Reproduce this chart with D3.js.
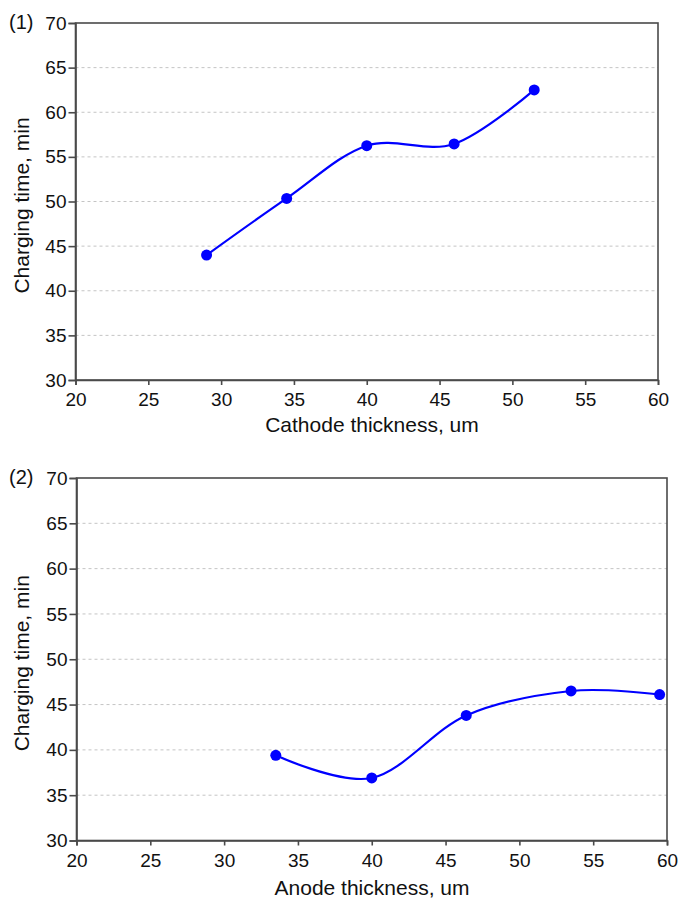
<!DOCTYPE html>
<html>
<head>
<meta charset="utf-8">
<script src="https://cdn.jsdelivr.net/npm/d3@7"></script>
<style>
body{margin:0;background:#fff;}
text{font-family:"Liberation Sans",Arial,sans-serif;fill:#111;}
</style>
</head>
<body>
<div id="content"></div>
<script>
// data
var cathodeX=[29,34.5,40,46,51.5];
var cathodeY=[44.0,50.35,56.25,56.45,62.5];
var anodeX=[33.5,40,46.4,53.5,59.5];
var anodeY=[39.4,36.9,43.8,46.5,46.1];
var xTicks=[20,25,30,35,40,45,50,55,60];
var yTicks=[30,35,40,45,50,55,60,65,70];

var width=679,height=898;
var svg=d3.select("#content").append("svg")
	.attr("width",width)
	.attr("height",height);

var panels=[
	{tag:"(1)",xs:cathodeX,ys:cathodeY,xlabel:"Cathode thickness, um",left:75.5,right:658,top:23,bottom:380,labelY:432},
	{tag:"(2)",xs:anodeX,ys:anodeY,xlabel:"Anode thickness, um",left:76.5,right:667,top:478,bottom:840.5,labelY:895}
];

function drawPanel(p){
	var x=d3.scaleLinear().domain([20,60]).range([p.left,p.right]);
	var y=d3.scaleLinear().domain([30,70]).range([p.bottom,p.top]);
	var g=svg.append("g");

	// grid
	g.selectAll(".grid")
	.data(yTicks.filter(function(d){return d>30&&d<70;}))
	.enter()
	.append("line")
	.attr("x1",p.left).attr("x2",p.right)
	.attr("y1",function(d){return y(d);}).attr("y2",function(d){return y(d);})
	.attr("stroke","#c4c4c4").attr("stroke-width",1)
	.attr("stroke-dasharray","3,3");

	// frame
	g.append("rect")
	.attr("x",p.left).attr("y",p.top)
	.attr("width",p.right-p.left).attr("height",p.bottom-p.top)
	.attr("fill","none").attr("stroke","#4a4a4a").attr("stroke-width",1.6);

	var xAxis=g.append("g")
	.attr("transform","translate(0,"+p.bottom+")")
	.call(d3.axisBottom(x).tickValues(xTicks).tickSize(5).tickPadding(8));
	var yAxis=g.append("g")
	.attr("transform","translate("+p.left+",0)")
	.call(d3.axisLeft(y).tickValues(yTicks).tickSize(7).tickPadding(2));
	[xAxis,yAxis].forEach(function(a){
		a.select(".domain").attr("stroke","#4a4a4a").attr("stroke-width",1.6);
		a.selectAll(".tick line").attr("stroke","#4a4a4a").attr("stroke-width",1.6);
		a.selectAll("text").attr("font-size",19).attr("fill","#111")
		.attr("font-family","'Liberation Sans',Arial,sans-serif");
	});

	var pts=p.xs.map(function(d,i){return [d,p.ys[i]];});
	var line=d3.line()
	.x(function(d){return x(d[0]);})
	.y(function(d){return y(d[1]);})
	.curve(d3.curveCardinal.tension(0));
	g.append("path")
	.datum(pts)
	.attr("d",line)
	.attr("fill","none")
	.attr("stroke","#0000ff")
	.attr("stroke-width",2.2);

	g.selectAll(".dot")
	.data(pts)
	.enter()
	.append("circle")
	.attr("cx",function(d){return x(d[0]);})
	.attr("cy",function(d){return y(d[1]);})
	.attr("r",5.5)
	.attr("fill","#0000ff");

	g.append("text")
	.attr("x",9).attr("y",p.top+6)
	.attr("font-size",20)
	.text(p.tag);

	g.append("text")
	.attr("x",372)
	.attr("y",p.labelY)
	.attr("text-anchor","middle")
	.attr("font-size",21)
	.text(p.xlabel);

	g.append("text")
	.attr("transform","translate(29,"+((p.top+p.bottom)/2+4)+") rotate(-90)")
	.attr("text-anchor","middle")
	.attr("font-size",21)
	.text("Charging time, min");
}

panels.forEach(drawPanel);
</script>
</body>
</html>
